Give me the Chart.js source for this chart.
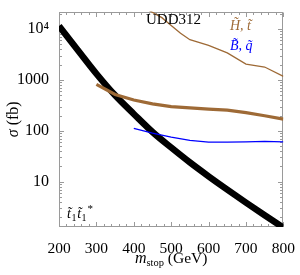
<!DOCTYPE html>
<html>
<head>
<meta charset="utf-8">
<script src="https://cdn.jsdelivr.net/npm/chart.js@4.4.0/dist/chart.umd.min.js"></script>
<style>
html,body{margin:0;padding:0;background:#fff;}
#wrap{width:300px;height:275px;position:relative;}
</style>
</head>
<body>
<div id="wrap"><canvas id="c" width="300" height="275"></canvas></div>
<script>
// ---- data ----
const stopMass = [200,250,300,350,400,450,500,550,600,650,700,750,800];
const stopXsec = [11500,3900,1330,500,215,95,47,24,12.8,7,3.9,2.2,1.25];

const htThickMass = [300,350,400,450,500,550,600,650,700,750,800];
const htThickXsec = [820,520,405,340,300,282,268,255,228,198,170];

const htThinMass = [440,475,500,525,550,600,650,700,750,800];
const htThinXsec = [23500,16800,11800,8300,6200,4800,3400,2050,1800,1180];

const bqMass = [400,450,500,550,600,650,700,750,800];
const bqXsec = [112,90,75,65,60,60,61,62,61];

const xTickValues = [200,300,400,500,600,700,800];
const yTickValues = [10,100,1000,10000];
const yTickLabels = ['10','100','1000','10\u2074'];

const BROWN = '#9e6a36';
const FONT = '"Liberation Serif", "Times New Roman", serif';

function pts(xs, ys){ return xs.map((x,i)=>({x:x, y:ys[i]})); }

const framePlugin = {
  id:'frame',
  beforeDatasetsDraw(chart){
    const {ctx, chartArea:a, scales:{x,y}} = chart;
    ctx.save();
    ctx.strokeStyle = '#9a9a9a';
    ctx.lineWidth = 1;
    const L = Math.round(a.left)+0.5, R = Math.round(a.right)-0.5;
    const T = Math.round(a.top)+0.5, B = Math.round(a.bottom)-0.5;
    ctx.strokeRect(L, T, R-L, B-T);
    ctx.beginPath();
    for (let v=200; v<=800; v+=20){
      const px = Math.round(x.getPixelForValue(v))+0.5;
      const len = (v%100===0) ? 4.5 : 2.5;
      ctx.moveTo(px,B); ctx.lineTo(px,B-len);
      ctx.moveTo(px,T); ctx.lineTo(px,T+len);
    }
    for (let d=1; d<=10000; d*=10){
      for (let m=1; m<=9; m++){
        const v = d*m;
        if (v < y.min || v > y.max) continue;
        const py = Math.round(y.getPixelForValue(v))+0.5;
        const len = (m===1) ? 4.5 : 2.5;
        ctx.moveTo(L,py); ctx.lineTo(L+len,py);
        ctx.moveTo(R,py); ctx.lineTo(R-len,py);
      }
    }
    ctx.stroke();
    ctx.restore();
  },
  afterDraw(chart){
    const {ctx, chartArea:a} = chart;
    ctx.save();
    ctx.textBaseline = 'alphabetic';
    ctx.textAlign = 'left';
    ctx.fillStyle = '#000';
    ctx.font = '15px ' + FONT;
    ctx.fillText('UDD312', 146, 23.5);
    ctx.fillStyle = BROWN;
    ctx.font = 'italic 14px ' + FONT;
    ctx.fillText('H\u0303, t\u0303', 230, 29.5);
    ctx.fillStyle = '#0000ff';
    ctx.fillText('B\u0303, q\u0303', 230, 50);
    ctx.fillStyle = '#000';
    let xx = 67;
    for (let k=0;k<2;k++){
      ctx.font = 'italic 14px ' + FONT;
      ctx.fillText('t\u0303', xx, 218);
      xx += ctx.measureText('t').width + 0.5;
      ctx.font = '10px ' + FONT;
      ctx.fillText('1', xx, 221);
      xx += ctx.measureText('1').width + 0.8;
    }
    ctx.font = '11px ' + FONT;
    ctx.fillText('*', xx, 212);
    // x title
    const cx = (a.left + a.right)/2;
    ctx.font = 'italic 16px ' + FONT;
    const wm = ctx.measureText('m').width;
    ctx.font = '10.5px ' + FONT;
    const ws = ctx.measureText('stop').width;
    ctx.font = '15.5px ' + FONT;
    const wg = ctx.measureText(' (GeV)').width;
    let sx = cx - (wm+ws+wg)/2;
    ctx.font = 'italic 16px ' + FONT;
    ctx.fillText('m', sx, 262.5); sx += wm;
    ctx.font = '10.5px ' + FONT;
    ctx.fillText('stop', sx, 265.5); sx += ws;
    ctx.font = '15.5px ' + FONT;
    ctx.fillText(' (GeV)', sx, 262.5);
    // y title
    ctx.translate(18, (a.top+a.bottom)/2);
    ctx.rotate(-Math.PI/2);
    ctx.font = 'italic 16px ' + FONT;
    const wsig = ctx.measureText('\u03c3').width;
    ctx.font = '16px ' + FONT;
    const wfb = ctx.measureText(' (fb)').width;
    let ty = -(wsig+wfb)/2;
    ctx.font = 'italic 16px ' + FONT;
    ctx.fillText('\u03c3', ty, 0); ty += wsig;
    ctx.font = '16px ' + FONT;
    ctx.fillText(' (fb)', ty, 0);
    ctx.restore();
  }
};

new Chart(document.getElementById('c'), {
  type:'line',
  data:{
    datasets:[
      {data:pts(htThinMass, htThinXsec), borderColor:BROWN, borderWidth:1.3, pointRadius:0, tension:0, fill:false},
      {data:pts(htThickMass, htThickXsec), borderColor:BROWN, borderWidth:3.2, pointRadius:0, tension:0, fill:false},
      {data:pts(bqMass, bqXsec), borderColor:'#0000ff', borderWidth:1.3, pointRadius:0, tension:0, fill:false},
      {data:pts(stopMass, stopXsec), borderColor:'#000', borderWidth:6.5, pointRadius:0, cubicInterpolationMode:'monotone', fill:false}
    ]
  },
  options:{
    responsive:false,
    animation:false,
    events:[],
    layout:{padding:{top:1, right:13, left:0, bottom:0}},
    plugins:{legend:{display:false}, tooltip:{enabled:false}, title:{display:false}},
    scales:{
      x:{
        type:'linear', min:200, max:800,
        grid:{display:false}, border:{display:false},
        afterBuildTicks(s){ s.ticks = xTickValues.map(v=>({value:v})); },
        afterFit(s){ s.height = 48; },
        ticks:{color:'#000', font:{family:FONT, size:15.5}, padding:5, maxRotation:0, autoSkip:false,
          callback:(v)=>String(v)}
      },
      y:{
        type:'logarithmic', min:1.29, max:22100,
        grid:{display:false}, border:{display:false},
        afterBuildTicks(s){ s.ticks = yTickValues.map(v=>({value:v})); },
        afterFit(s){ s.width = 59; },
        ticks:{color:'#000', font:{family:FONT, size:16}, padding:2, autoSkip:false,
          callback:(v)=>{ const i = yTickValues.indexOf(v); return i>=0 ? yTickLabels[i] : ''; }}
      }
    }
  },
  plugins:[framePlugin]
});
</script>
</body>
</html>
